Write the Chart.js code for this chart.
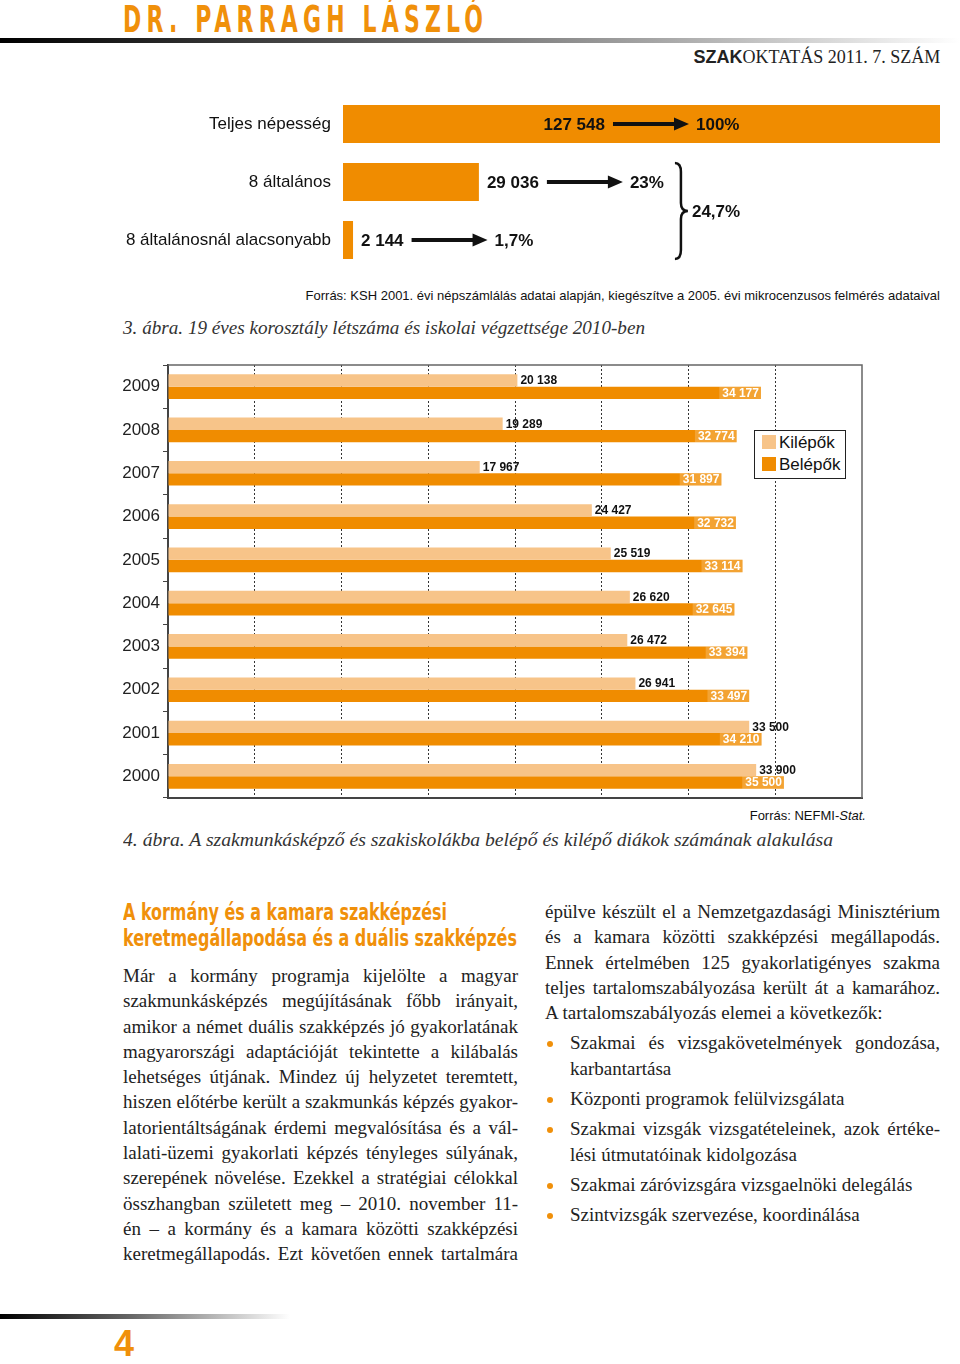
<!DOCTYPE html>
<html lang="hu">
<head>
<meta charset="utf-8">
<title>Szakoktatás 2011/7</title>
<script src="https://cdn.jsdelivr.net/npm/chart.js@4.4.1/dist/chart.umd.min.js"></script>
<style>
  html, body { margin: 0; padding: 0; background: #fff; }
  body { position: relative; width: 960px; height: 1364px; overflow: hidden; font-family: "Liberation Sans", Arial, sans-serif; color: #222; }
  .abs { position: absolute; }
  .cond { font-family: "Liberation Sans Narrow", "DejaVu Sans Condensed", "Liberation Sans", sans-serif; font-weight: bold; white-space: nowrap; }
  .serif { font-family: "Liberation Serif", "DejaVu Serif", serif; }
  .fit { white-space: nowrap; transform-origin: 0 50%; display: inline-block; }
  #author { left: 123px; top: 0px; font-size: 37px; line-height: 40px; color: #f0900a; }
  #author span { transform-origin: 0 50%; display: inline-block; white-space: nowrap; }
  #topline { left: 0; top: 38px; width: 960px; height: 5px; background: linear-gradient(to right, #000 0%, #444 30%, #aaa 70%, #fff 100%); }
  #issue { right: 20px; top: 46px; font-size: 18px; line-height: 22px; white-space: nowrap; transform-origin: 100% 50%; }
  #issue b { font-family: "Liberation Sans", Arial, sans-serif; }
  .caption { left: 123px; font-style: italic; font-size: 19px; line-height: 24px; color: #333; }
  .source { font-size: 13px; line-height: 16px; white-space: nowrap; color: #111; }
  #legend { left: 754px; top: 430px; width: 90px; height: 47px; border: 1px solid #222; background: #fff; }
  #legend div { position: absolute; left: 7px; font-size: 17px; line-height: 20px; color: #111; white-space: nowrap; }
  #legend span { display: inline-block; width: 14px; height: 14px; margin-right: 3px; vertical-align: -1px; }
  h2 { margin: 0; font-size: 23px; line-height: 26px; color: #f0900a; }
  .col { width: 395px; font-size: 19px; line-height: 25.3px; color: #222; }
  .ln { white-space: nowrap; }
  .bul { position: relative; padding-left: 25px; margin-top: 5px; }
  .bul::before { content: ""; position: absolute; left: 2px; top: 11px; width: 6px; height: 6px; border-radius: 50%; background: #f0900a; }
  #botline { left: 0; top: 1314px; width: 290px; height: 5px; background: linear-gradient(to right, #000 0%, #666 45%, #fff 100%); }
  #pageno { left: 114px; top: 1324px; font-size: 36px; line-height: 40px; font-weight: bold; color: #f0900a; }
</style>
</head>
<body>

<div id="author" class="abs cond"><span>DR. PARRAGH LÁSZLÓ</span></div>
<div id="topline" class="abs"></div>
<div id="issue" class="abs serif"><b>SZAK</b>OKTATÁS 2011. 7. SZÁM</div>

<div class="abs" style="left:100px; top:95px; width:850px; height:180px;">
  <canvas id="popChart" width="850" height="180"></canvas>
</div>
<div class="abs source" style="right:20px; top:288px;">Forrás: KSH 2001. évi népszámlálás adatai alapján, kiegészítve a 2005. évi mikrocenzusos felmérés adataival</div>
<div class="abs caption serif" style="top:316px;"><span class="fit" data-w="522">3. ábra. 19 éves korosztály létszáma és iskolai végzettsége 2010-ben</span></div>

<div class="abs" style="left:110px; top:355px; width:770px; height:448px;">
  <canvas id="flowChart" width="770" height="448"></canvas>
</div>
<div id="legend" class="abs"></div>
<div class="abs source" style="right:94px; top:808px;">Forrás: NEFMI-<i>Stat.</i></div>
<div class="abs caption serif" style="top:828px;"><span class="fit" data-w="710">4. ábra. A szakmunkásképző és szakiskolákba belépő és kilépő diákok számának alakulása</span></div>

<div class="abs cond" style="left:123px; top:899px;">
  <h2><span class="fit" data-w="324">A kormány és a kamara szakképzési</span></h2>
  <h2><span class="fit" data-w="394">keretmegállapodása és a duális szakképzés</span></h2>
</div>

<div class="abs col serif" style="left:123px; top:963px;">
  <div class="ln j"><span>Már a kormány programja kijelölte a magyar</span></div>
  <div class="ln j"><span>szakmunkásképzés megújításának főbb irányait,</span></div>
  <div class="ln j"><span>amikor a német duális szakképzés jó gyakorlatának</span></div>
  <div class="ln j"><span>magyarországi adaptációját tekintette a kilábalás</span></div>
  <div class="ln j"><span>lehetséges útjának. Mindez új helyzetet teremtett,</span></div>
  <div class="ln j"><span>hiszen előtérbe került a szakmunkás képzés gyakor-</span></div>
  <div class="ln j"><span>latorientáltságának érdemi megvalósítása és a vál-</span></div>
  <div class="ln j"><span>lalati-üzemi gyakorlati képzés tényleges súlyának,</span></div>
  <div class="ln j"><span>szerepének növelése. Ezekkel a stratégiai célokkal</span></div>
  <div class="ln j"><span>összhangban született meg – 2010. november 11-</span></div>
  <div class="ln j"><span>én – a kormány és a kamara közötti szakképzési</span></div>
  <div class="ln j"><span>keretmegállapodás. Ezt követően ennek tartalmára</span></div>
</div>

<div class="abs col serif" style="left:545px; top:899px;">
  <div class="ln j"><span>épülve készült el a Nemzetgazdasági Minisztérium</span></div>
  <div class="ln j"><span>és a kamara közötti szakképzési megállapodás.</span></div>
  <div class="ln j"><span>Ennek értelmében 125 gyakorlatigényes szakma</span></div>
  <div class="ln j"><span>teljes tartalomszabályozása került át a kamarához.</span></div>
  <div class="ln"><span>A tartalomszabályozás elemei a következők:</span></div>
  <div class="bul">
    <div class="ln j"><span>Szakmai és vizsgakövetelmények gondozása,</span></div>
    <div class="ln"><span>karbantartása</span></div>
  </div>
  <div class="bul"><div class="ln"><span>Központi programok felülvizsgálata</span></div></div>
  <div class="bul">
    <div class="ln j"><span>Szakmai vizsgák vizsgatételeinek, azok értéke-</span></div>
    <div class="ln"><span>lési útmutatóinak kidolgozása</span></div>
  </div>
  <div class="bul"><div class="ln"><span>Szakmai záróvizsgára vizsgaelnöki delegálás</span></div></div>
  <div class="bul"><div class="ln"><span>Szintvizsgák szervezése, koordinálása</span></div></div>
</div>

<div id="botline" class="abs"></div>
<div id="pageno" class="abs">4</div>

<script>
// 3. ábra - 19 éves korosztály
const groups = ['Teljes népesség', '8 általános', '8 általánosnál alacsonyabb'];
const counts = [127548, 29036, 2144];
const shares = [100, 23, 1.7];

// 4. ábra - belépők / kilépők
const years = ['2009', '2008', '2007', '2006', '2005', '2004', '2003', '2002', '2001', '2000'];
const kilepok = [20138, 19289, 17967, 24427, 25519, 26620, 26472, 26941, 33500, 33900];
const belepok = [34177, 32774, 31897, 32732, 33114, 32645, 33394, 33497, 34210, 35500];
const xMax = 40000;
const xStep = 5000;

const ORANGE = '#f08c00';
const LIGHT = '#f7c489';
const SANS = '"Liberation Sans", Arial, sans-serif';

Chart.defaults.font.family = SANS;
Chart.defaults.animation = false;

const fmt = v => String(v).replace(/\B(?=(\d{3})+(?!\d))/g, ' ');
const pct = v => String(v).replace('.', ',') + '%';

// text layout helpers (page, not chart)
document.querySelectorAll('.fit').forEach(el => {
  const w = el.getBoundingClientRect().width;
  el.style.transform = 'scaleX(' + (el.dataset.w / w) + ')';
});
(() => {
  // narrow, widely spaced header
  const el = document.querySelector('#author span');
  const squeeze = 0.66;
  const n = el.textContent.length;
  const w0 = el.getBoundingClientRect().width;
  const ls = (360 / squeeze - w0) / (n - 1);
  el.style.letterSpacing = ls + 'px';
  el.style.transform = 'scaleX(' + squeeze + ')';
})();
(() => {
  const el = document.getElementById('issue');
  const w = el.getBoundingClientRect().width;
  el.style.transform = 'scaleX(' + (247 / w) + ')';
})();
document.querySelectorAll('.ln').forEach(el => {
  const span = el.firstElementChild;
  const colW = el.clientWidth;
  const w = span.getBoundingClientRect().width;
  const gaps = (span.textContent.match(/ /g) || []).length;
  if (el.classList.contains('j') && gaps) {
    span.style.wordSpacing = ((colW - w) / gaps) + 'px';
  } else if (w > colW) {
    span.style.wordSpacing = ((colW - w) / Math.max(gaps, 1)) + 'px';
  }
});

// y axis: no extra top/bottom padding for the labels
const noLabelPad = s => { s.paddingTop = 0; s.paddingBottom = 0; };

function drawArrow(ctx, x1, x2, y) {
  ctx.lineWidth = 4;
  ctx.beginPath();
  ctx.moveTo(x1, y);
  ctx.lineTo(x2 - 12, y);
  ctx.stroke();
  ctx.beginPath();
  ctx.moveTo(x2, y);
  ctx.lineTo(x2 - 15, y - 6.5);
  ctx.lineTo(x2 - 15, y + 6.5);
  ctx.closePath();
  ctx.fill();
}

const popNotes = {
  id: 'popNotes',
  afterDatasetsDraw(chart) {
    const ctx = chart.ctx;
    const bars = chart.getDatasetMeta(0).data;
    ctx.save();
    ctx.font = 'bold 17px ' + SANS;
    ctx.textBaseline = 'middle';
    ctx.textAlign = 'left';
    ctx.fillStyle = '#111';
    ctx.strokeStyle = '#111';
    const ends = [];
    bars.forEach((bar, i) => {
      const num = fmt(counts[i]);
      const share = pct(shares[i]);
      const nw = ctx.measureText(num).width;
      const pw = ctx.measureText(share).width;
      const arrowLen = 76;
      const total = nw + 8 + arrowLen + 7 + pw;
      let x = bar.x + 8;
      if (bar.x - bar.base > total + 40) x = (bar.x + bar.base) / 2 - total / 2;
      ctx.fillText(num, x, bar.y + 1);
      drawArrow(ctx, x + nw + 8, x + nw + 8 + arrowLen, bar.y);
      ctx.fillText(share, x + nw + 15 + arrowLen, bar.y + 1);
      ends.push(x + total);
    });
    // kapcsos zárójel a két alsó sorhoz
    const b1 = bars[1], b2 = bars[2];
    const top = b1.y - b1.height / 2;
    const bottom = b2.y + b2.height / 2;
    const mid = (top + bottom) / 2;
    const bx = Math.max(ends[1], ends[2]) + 11;
    ctx.lineWidth = 2.5;
    ctx.beginPath();
    ctx.moveTo(bx, top);
    ctx.quadraticCurveTo(bx + 6, top, bx + 6, top + 9);
    ctx.lineTo(bx + 6, mid - 8);
    ctx.quadraticCurveTo(bx + 6, mid, bx + 13, mid);
    ctx.quadraticCurveTo(bx + 6, mid, bx + 6, mid + 8);
    ctx.lineTo(bx + 6, bottom - 9);
    ctx.quadraticCurveTo(bx + 6, bottom, bx, bottom);
    ctx.stroke();
    ctx.fillText(pct((shares[1] + shares[2]).toFixed(1)), bx + 17, mid + 1);
    ctx.restore();
  }
};

new Chart(document.getElementById('popChart'), {
  type: 'bar',
  data: {
    labels: groups,
    datasets: [{
      data: counts,
      backgroundColor: ORANGE,
      barPercentage: 0.655,
      categoryPercentage: 1
    }]
  },
  options: {
    responsive: false,
    indexAxis: 'y',
    layout: { padding: { top: 0, right: 10, bottom: 6, left: 0 } },
    plugins: { legend: { display: false }, tooltip: { enabled: false } },
    scales: {
      x: { display: false, min: 0, max: counts[0] },
      y: {
        grid: { display: false, drawTicks: false },
        border: { display: false },
        ticks: { color: '#111', padding: 12, font: { size: 17 } },
        afterFit: s => { s.width = 243; noLabelPad(s); }
      }
    }
  },
  plugins: [popNotes]
});

const barLabels = {
  id: 'barLabels',
  afterDatasetsDraw(chart) {
    const ctx = chart.ctx;
    ctx.save();
    ctx.font = 'bold 12px ' + SANS;
    ctx.textBaseline = 'middle';
    chart.data.datasets.forEach((ds, di) => {
      chart.getDatasetMeta(di).data.forEach((bar, i) => {
        const txt = fmt(ds.data[i]);
        const w = ctx.measureText(txt).width;
        if (di === 0) {
          ctx.fillStyle = '#111';
          ctx.textAlign = 'left';
          ctx.fillText(txt, bar.x + 3, bar.y + 0.5);
        } else {
          ctx.fillStyle = 'rgba(255,255,255,0.2)';
          ctx.fillRect(bar.x - w - 5, bar.y - bar.height / 2, w + 5, bar.height);
          ctx.fillStyle = '#fff';
          ctx.textAlign = 'right';
          ctx.fillText(txt, bar.x - 2, bar.y + 0.5);
        }
      });
    });
    ctx.restore();
  }
};

const frame = {
  id: 'frame',
  afterDraw(chart) {
    const { ctx, chartArea: a } = chart;
    ctx.save();
    ctx.strokeStyle = '#666';
    ctx.lineWidth = 1.5;
    ctx.beginPath();
    ctx.moveTo(a.left, a.top);
    ctx.lineTo(a.right, a.top);
    ctx.lineTo(a.right, a.bottom);
    ctx.stroke();
    ctx.restore();
  }
};

const flowChart = new Chart(document.getElementById('flowChart'), {
  type: 'bar',
  data: {
    labels: years,
    datasets: [{
      label: 'Kilépők',
      data: kilepok,
      backgroundColor: LIGHT,
      barPercentage: 1,
      categoryPercentage: 0.57
    }, {
      label: 'Belépők',
      data: belepok,
      backgroundColor: ORANGE,
      barPercentage: 1,
      categoryPercentage: 0.57
    }]
  },
  options: {
    responsive: false,
    indexAxis: 'y',
    layout: { padding: { top: 10, right: 18, bottom: 5, left: 0 } },
    plugins: { legend: { display: false }, tooltip: { enabled: false } },
    scales: {
      x: {
        min: 0,
        max: xMax,
        ticks: { display: false, stepSize: xStep },
        grid: {
          drawTicks: false,
          lineWidth: 1,
          color: c => (c.tick && (c.tick.value === 0 || c.tick.value === xMax)) ? 'rgba(0,0,0,0)' : '#333'
        },
        border: { color: '#444', width: 2, dash: [2, 2] },
        afterFit: s => { s.height = 0; }
      },
      y: {
        grid: { drawOnChartArea: false, drawTicks: true, tickLength: 5, color: '#444', offset: true },
        border: { color: '#444', width: 2 },
        ticks: { color: '#222', padding: 3, font: { size: 17 } },
        afterFit: s => { s.width = 58; noLabelPad(s); }
      }
    }
  },
  plugins: [barLabels, frame]
});

// jelmagyarázat a diagram adataiból
const legend = document.getElementById('legend');
flowChart.data.datasets.forEach((ds, i) => {
  const item = document.createElement('div');
  item.style.top = (2 + i * 22) + 'px';
  item.innerHTML = '<span style="background:' + ds.backgroundColor + '"></span>' + ds.label;
  legend.appendChild(item);
});
</script>
</body>
</html>
